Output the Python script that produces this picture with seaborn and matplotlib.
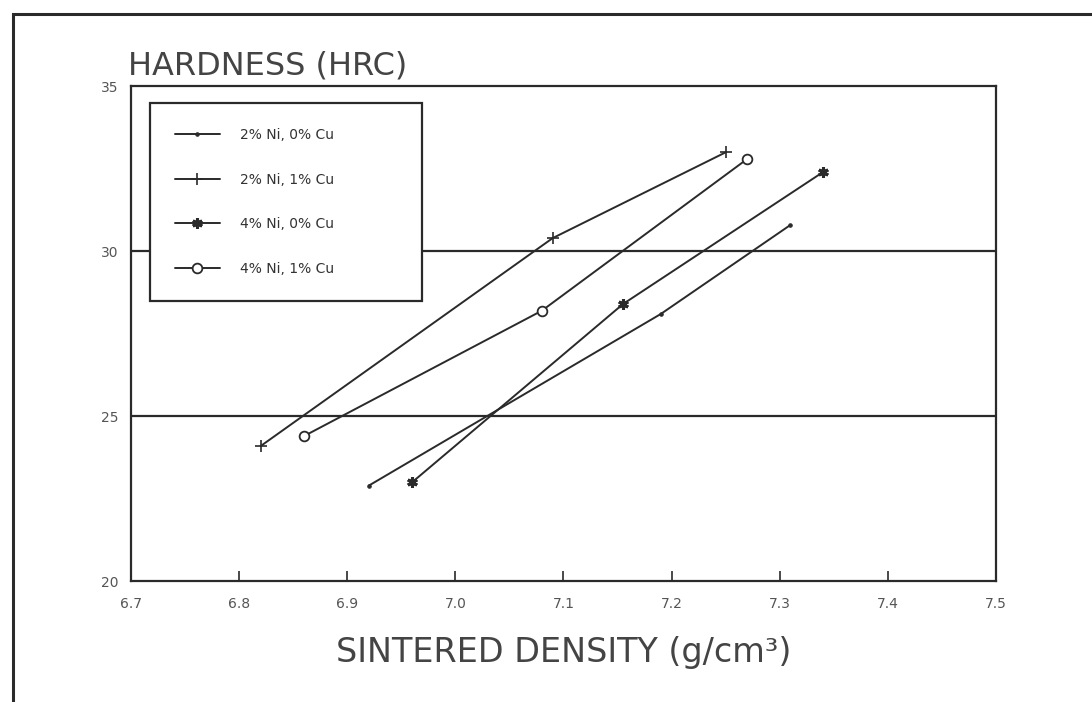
import matplotlib
matplotlib.use("Agg")
import matplotlib.pyplot as plt
import seaborn as sns
import pandas as pd
from matplotlib.patches import Rectangle

# ---- data ----
series_names = ["2% Ni, 0% Cu", "2% Ni, 1% Cu", "4% Ni, 0% Cu", "4% Ni, 1% Cu"]
dens_2ni_0cu = [6.92, 7.19, 7.31]
hrc_2ni_0cu = [22.9, 28.1, 30.8]
dens_2ni_1cu = [6.82, 7.09, 7.25]
hrc_2ni_1cu = [24.1, 30.4, 33.0]
dens_4ni_0cu = [6.96, 7.155, 7.34]
hrc_4ni_0cu = [23.0, 28.4, 32.4]
dens_4ni_1cu = [6.86, 7.08, 7.27]
hrc_4ni_1cu = [24.4, 28.2, 32.8]

x_ticks = [6.7, 6.8, 6.9, 7.0, 7.1, 7.2, 7.3, 7.4, 7.5]
x_ticklabels = ["6.7", "6.8", "6.9", "7.0", "7.1", "7.2", "7.3", "7.4", "7.5"]
y_ticks = [20, 25, 30, 35]
y_ticklabels = ["20", "25", "30", "35"]
grid_levels = [25, 30]

sns.set_theme(style="white")
plt.rcParams["font.family"] = ["DejaVu Sans"]

fig = plt.figure(figsize=(10.92, 7.02), dpi=100)
fig.patch.set_facecolor("white")
ax = fig.add_axes([0.12, 0.172, 0.792, 0.705])

ink = "#2a2a2a"
styles = [
    dict(marker="o", markersize=2.5, markerfacecolor=ink, markeredgecolor=ink),
    dict(marker="+", markersize=9, markeredgewidth=1.2, markeredgecolor=ink),
    dict(marker=(6, 2, 0), markersize=7.5, markeredgewidth=2.2, markeredgecolor=ink),
    dict(marker="o", markersize=7, markerfacecolor="white", markeredgewidth=1.3, markeredgecolor=ink),
]
xs = [dens_2ni_0cu, dens_2ni_1cu, dens_4ni_0cu, dens_4ni_1cu]
ys = [hrc_2ni_0cu, hrc_2ni_1cu, hrc_4ni_0cu, hrc_4ni_1cu]

for name, x, y, st in zip(series_names, xs, ys, styles):
    df = pd.DataFrame({"density": x, "hrc": y})
    sns.lineplot(data=df, x="density", y="hrc", ax=ax, color=ink, linewidth=1.4,
                 estimator=None, label=name, **st)

for g in grid_levels:
    ax.axhline(g, color=ink, linewidth=1.6, zorder=1)

ax.set_xlim(6.7, 7.5)
ax.set_ylim(20, 35)
ax.set_xticks(x_ticks)
ax.set_xticklabels(x_ticklabels)
ax.set_yticks(y_ticks)
ax.set_yticklabels(y_ticklabels)
ax.tick_params(axis="x", direction="in", length=7, width=1.2, color=ink,
               pad=11, labelsize=10, labelcolor="#555555", bottom=True)
ax.tick_params(axis="y", length=0, pad=9, labelsize=10, labelcolor="#555555", left=False)
for s in ax.spines.values():
    s.set_color(ink)
    s.set_linewidth(1.6)

ax.set_xlabel("SINTERED DENSITY (g/cm³)", fontsize=24, color="#444444", labelpad=18)
ax.set_ylabel("")
fig.text(0.117, 0.884, "HARDNESS (HRC)", fontsize=23, color="#444444", ha="left", va="bottom")

leg = ax.legend(loc="upper left", bbox_to_anchor=(0.022, 0.58, 0.314, 0.386),
                mode="expand", borderaxespad=0, fontsize=10, labelspacing=2.2,
                handlelength=3.2, handletextpad=1.5, borderpad=1.8,
                frameon=True, fancybox=False, framealpha=1, edgecolor=ink)
leg.get_frame().set_linewidth(1.6)
for t in leg.get_texts():
    t.set_color("#333333")

# outer scan frame
fig.patches.append(Rectangle((0.012, -0.01), 1.0, 0.99, transform=fig.transFigure,
                             fill=False, edgecolor=ink, linewidth=2.2))

fig.savefig("out.png", dpi=100, facecolor="white")
